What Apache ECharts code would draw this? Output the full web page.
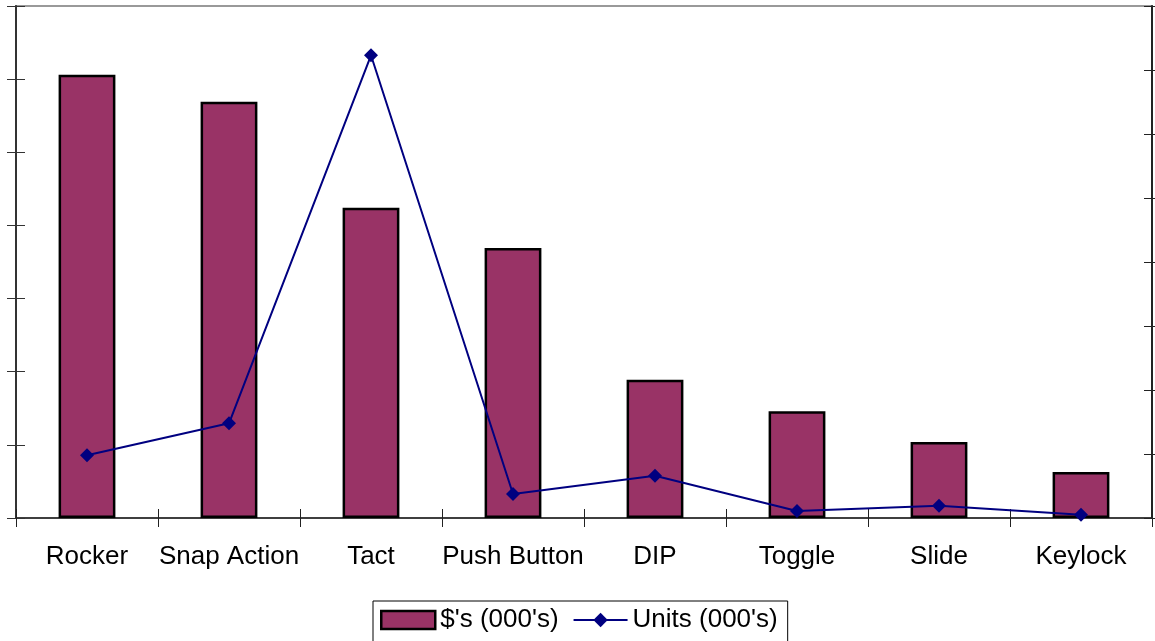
<!DOCTYPE html>
<html>
<head>
<meta charset="utf-8">
<script src="https://cdn.jsdelivr.net/npm/echarts@6/dist/echarts.min.js"></script>
<style>
html,body{margin:0;padding:0;background:#fff;}
#c{width:1155px;height:641px;}
</style>
</head>
<body>
<div id="c"></div>
<script>
const categories = ['Rocker', 'Snap Action', 'Tact', 'Push Button', 'DIP', 'Toggle', 'Slide', 'Keylock'];
const dollars = [6.06, 5.69, 4.24, 3.69, 1.89, 1.46, 1.04, 0.63];
const units = [0.98, 1.48, 7.23, 0.375, 0.66, 0.11, 0.19, 0.05];
const seriesNames = ["$'s (000's)", "Units (000's)"];

const FONT = '"Liberation Sans", Arial, sans-serif';
const chart = echarts.init(document.getElementById('c'), null, {renderer: 'canvas'});
chart.setOption({
  animation: false,
  backgroundColor: '#fff',
  textStyle: {fontFamily: FONT},
  grid: {left: 16, right: 3, top: 6, bottom: 123, show: true, borderColor: '#999', borderWidth: 2, backgroundColor: 'transparent'},
  legend: {
    left: 373, top: 601,
    borderColor: '#000', borderWidth: 1,
    padding: [6, 10, 12, 7],
    itemWidth: 54, itemHeight: 18, itemGap: 14,
    textStyle: {fontSize: 26, color: '#000', fontFamily: FONT},
    data: [{name: seriesNames[0], icon: 'rect', itemStyle: {borderColor: '#000', borderWidth: 2.5}}, {name: seriesNames[1]}]
  },
  xAxis: [{
    type: 'category', data: categories, position: 'bottom',
    axisLine: {lineStyle: {color: '#222', width: 1.5}},
    axisTick: {show: true, length: 9, lineStyle: {color: '#222'}},
    axisLabel: {fontSize: 26, color: '#000', margin: 26, interval: 0, fontFamily: FONT},
    splitLine: {show: false}
  }, {
    type: 'category', data: categories, position: 'bottom', gridIndex: 0,
    axisLine: {show: false},
    axisTick: {show: true, inside: true, length: 9, lineStyle: {color: '#222'}},
    axisLabel: {show: false}
  }],
  yAxis: [{
    type: 'value', min: 0, max: 7, interval: 1, position: 'left',
    axisLine: {show: true, lineStyle: {color: '#333', width: 2}},
    axisTick: {show: true, length: 9, lineStyle: {color: '#333'}},
    axisLabel: {show: false}, splitLine: {show: false}
  }, {
    type: 'value', min: 0, max: 8, interval: 1, position: 'right',
    axisLine: {show: true, lineStyle: {color: '#222', width: 2}},
    axisTick: {show: true, length: 3, lineStyle: {color: '#222'}},
    axisLabel: {show: false}, splitLine: {show: false}
  }, {
    type: 'value', min: 0, max: 7, interval: 1, position: 'left',
    axisLine: {show: false},
    axisTick: {show: true, inside: true, length: 9, lineStyle: {color: '#333'}},
    axisLabel: {show: false}, splitLine: {show: false}
  }, {
    type: 'value', min: 0, max: 8, interval: 1, position: 'right',
    axisLine: {show: false},
    axisTick: {show: true, inside: true, length: 8, lineStyle: {color: '#222'}},
    axisLabel: {show: false}, splitLine: {show: false}
  }],
  series: [{
    name: seriesNames[0], type: 'bar', data: dollars, xAxisIndex: 0, yAxisIndex: 0,
    barWidth: '40%',
    itemStyle: {color: '#993366', borderColor: '#000', borderWidth: 2.5}
  }, {
    name: seriesNames[1], type: 'line', data: units, xAxisIndex: 0, yAxisIndex: 1,
    symbol: 'diamond', symbolSize: 14,
    lineStyle: {color: '#000080', width: 2},
    itemStyle: {color: '#000080'}
  }]
});
</script>
</body>
</html>
